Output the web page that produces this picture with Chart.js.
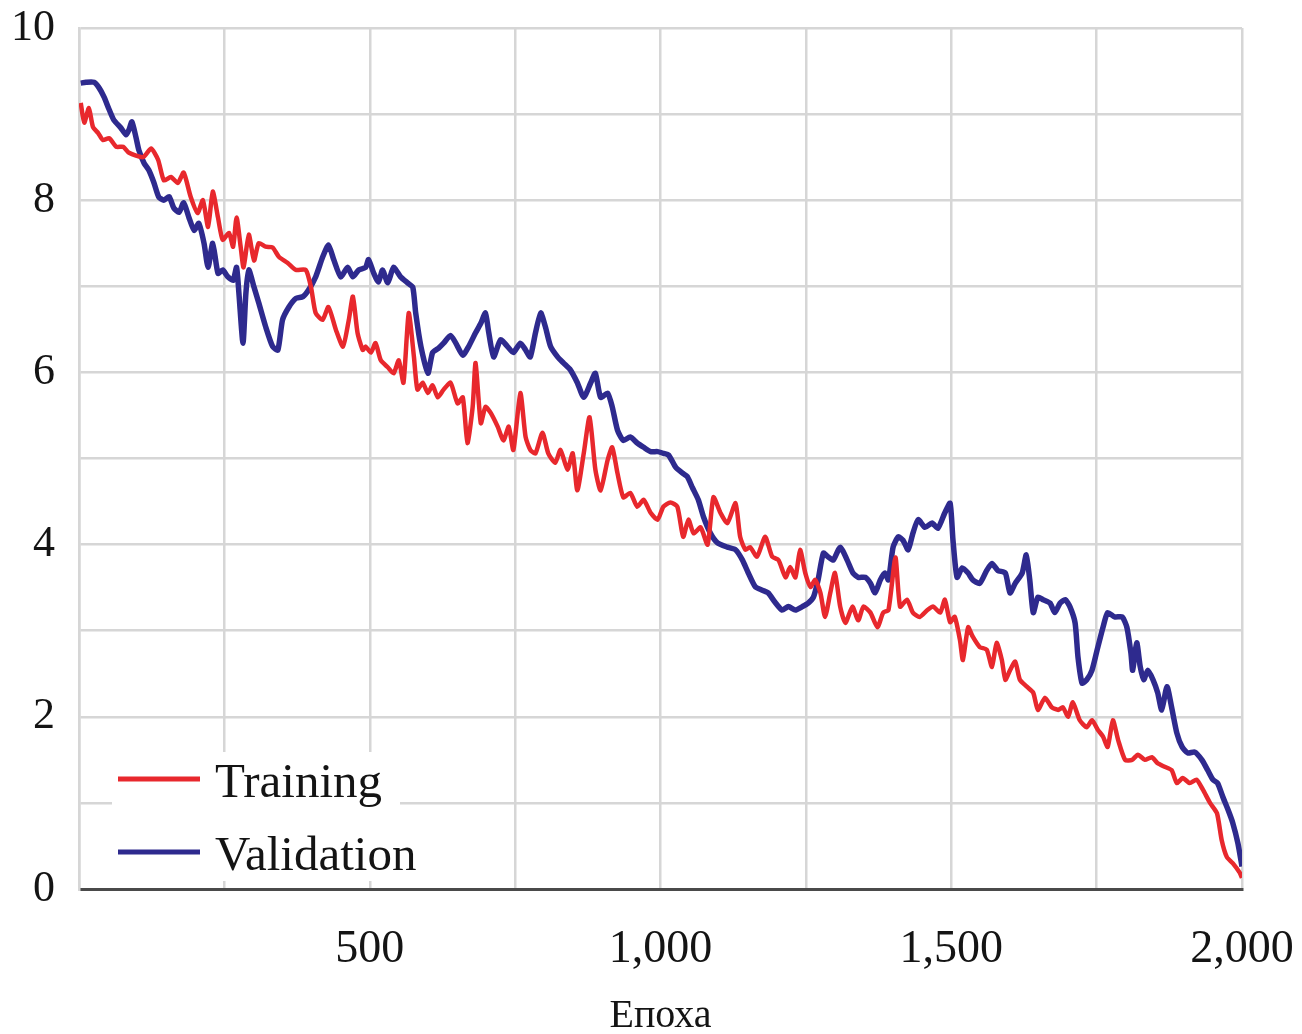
<!DOCTYPE html>
<html>
<head>
<meta charset="utf-8">
<title>Training / Validation</title>
<script src="https://cdn.jsdelivr.net/npm/chart.js@4.4.1/dist/chart.umd.min.js"></script>
<style>
  html, body { margin: 0; padding: 0; background: #ffffff; }
  #wrap { width: 1302px; height: 1034px; }
</style>
</head>
<body>
<div id="wrap"><canvas id="chart" width="1302" height="1034"></canvas></div>
<script>
// Loss per epoch, training run
const trainEpochs = [3, 9, 17, 24, 33, 41, 52, 64, 76, 86, 110, 124, 136, 146, 158, 170, 180, 192, 204, 213,
  222, 230, 239, 247, 258, 265, 271, 278, 283, 292, 301, 309, 321, 333, 344, 359, 373, 390, 399, 407,
  419, 429, 442, 454, 464, 471, 479, 488, 493, 502, 510, 519, 531, 541, 550, 558, 567, 576, 582, 591,
  600, 608, 617, 627, 639, 651, 660, 668, 677, 682, 691, 699, 708, 720, 730, 739, 747, 759, 768, 776,
  785, 797, 807, 819, 828, 840, 849, 857, 868, 878, 888, 897, 909, 917, 926, 936, 948, 960, 971, 983,
  995, 1005, 1017, 1029, 1039, 1048, 1057, 1069, 1081, 1091, 1103, 1115, 1129, 1137, 1146, 1154, 1166, 1180, 1192, 1203,
  1215, 1223, 1232, 1240, 1249, 1258, 1266, 1275, 1283, 1292, 1300, 1309, 1318, 1330, 1340, 1349, 1361, 1373, 1383, 1392,
  1404, 1412, 1424, 1434, 1446, 1459, 1469, 1481, 1489, 1498, 1506, 1515, 1520, 1529, 1537, 1549, 1561, 1570, 1578, 1587,
  1593, 1601, 1610, 1618, 1630, 1641, 1649, 1661, 1673, 1684, 1692, 1701, 1709, 1721, 1733, 1742, 1752, 1761, 1769, 1778,
  1787, 1799, 1811, 1821, 1833, 1845, 1855, 1867, 1879, 1888, 1898, 1910, 1922, 1933, 1945, 1957, 1965, 1974, 1984, 1996, 2000];
const trainLoss = [9.13, 8.90, 9.07, 8.85, 8.78, 8.70, 8.72, 8.62, 8.62, 8.55, 8.50, 8.60, 8.47, 8.23, 8.27, 8.20, 8.32, 8.04, 7.85, 8.00,
  7.69, 8.10, 7.80, 7.54, 7.62, 7.46, 7.80, 7.46, 7.22, 7.60, 7.30, 7.50, 7.46, 7.45, 7.34, 7.27, 7.19, 7.19, 6.99, 6.69,
  6.61, 6.76, 6.49, 6.30, 6.61, 6.88, 6.46, 6.26, 6.30, 6.23, 6.34, 6.14, 6.06, 5.99, 6.14, 5.88, 6.69, 6.18, 5.80, 5.88,
  5.76, 5.85, 5.71, 5.80, 5.88, 5.64, 5.71, 5.18, 5.60, 6.11, 5.41, 5.60, 5.53, 5.37, 5.21, 5.37, 5.10, 5.76, 5.25, 5.10,
  5.06, 5.30, 5.06, 4.95, 5.10, 4.87, 5.06, 4.63, 5.06, 5.48, 4.87, 4.63, 4.98, 5.13, 4.83, 4.55, 4.60, 4.44, 4.52, 4.37,
  4.29, 4.44, 4.49, 4.44, 4.09, 4.29, 4.13, 4.20, 4.00, 4.55, 4.37, 4.25, 4.48, 4.09, 3.94, 3.97, 3.86, 4.09, 3.86, 3.82,
  3.62, 3.74, 3.62, 3.94, 3.67, 3.51, 3.59, 3.44, 3.16, 3.44, 3.67, 3.28, 3.09, 3.28, 3.12, 3.28, 3.21, 3.04, 3.21, 3.24,
  3.85, 3.28, 3.36, 3.21, 3.16, 3.24, 3.28, 3.21, 3.36, 3.10, 3.16, 2.89, 2.66, 3.04, 2.93, 2.81, 2.78, 2.58, 2.86, 2.66,
  2.43, 2.54, 2.64, 2.43, 2.35, 2.28, 2.08, 2.22, 2.11, 2.08, 2.11, 2.00, 2.17, 1.96, 1.88, 1.96, 1.85, 1.77, 1.65, 1.96,
  1.73, 1.50, 1.50, 1.56, 1.50, 1.53, 1.46, 1.42, 1.38, 1.23, 1.29, 1.23, 1.27, 1.15, 1.00, 0.88, 0.57, 0.37, 0.30, 0.19, 0.13];

// Loss per epoch, validation run
const valEpochs = [3, 12, 26, 34, 43, 52, 60, 72, 81, 86, 91, 98, 103, 112, 120, 129, 137, 146, 155, 163,
  172, 180, 189, 198, 206, 215, 222, 230, 239, 247, 256, 265, 271, 275, 282, 287, 292, 301, 309, 321,
  333, 342, 350, 361, 373, 385, 395, 407, 419, 429, 438, 450, 462, 471, 481, 493, 498, 507, 515, 522,
  531, 541, 553, 565, 574, 579, 588, 600, 608, 618, 627, 639, 648, 660, 670, 682, 691, 699, 704, 713,
  725, 737, 747, 759, 768, 776, 785, 794, 802, 811, 823, 833, 845, 857, 868, 880, 888, 897, 909, 917,
  926, 936, 948, 960, 971, 983, 995, 1005, 1014, 1026, 1038, 1046, 1055, 1065, 1074, 1086, 1098, 1115, 1129, 1141,
  1151, 1163, 1175, 1185, 1197, 1209, 1220, 1232, 1244, 1254, 1263, 1271, 1280, 1288, 1297, 1309, 1321, 1331, 1340, 1352,
  1361, 1369, 1378, 1386, 1392, 1400, 1409, 1417, 1426, 1434, 1443, 1455, 1467, 1477, 1489, 1498, 1503, 1510, 1519, 1529,
  1537, 1549, 1561, 1570, 1580, 1593, 1601, 1610, 1622, 1629, 1635, 1641, 1649, 1658, 1670, 1678, 1687, 1696, 1704, 1713,
  1718, 1725, 1733, 1742, 1751, 1761, 1769, 1781, 1794, 1802, 1809, 1812, 1819, 1825, 1831, 1838, 1847, 1855, 1862, 1871,
  1879, 1888, 1897, 1907, 1919, 1931, 1941, 1950, 1958, 1967, 1976, 1984, 1993, 2000];
const valLoss = [9.36, 9.37, 9.37, 9.31, 9.20, 9.05, 8.93, 8.84, 8.76, 8.82, 8.91, 8.73, 8.58, 8.43, 8.35, 8.20, 8.04, 8.00, 8.04, 7.91,
  7.86, 7.97, 7.80, 7.65, 7.73, 7.50, 7.22, 7.50, 7.15, 7.19, 7.11, 7.07, 7.22, 6.92, 6.34, 6.92, 7.19, 6.99, 6.81, 6.53,
  6.30, 6.26, 6.61, 6.76, 6.86, 6.88, 6.96, 7.11, 7.34, 7.48, 7.31, 7.11, 7.22, 7.11, 7.19, 7.22, 7.31, 7.15, 7.05, 7.19,
  7.04, 7.22, 7.11, 7.04, 6.99, 6.69, 6.30, 5.99, 6.23, 6.28, 6.34, 6.43, 6.34, 6.20, 6.30, 6.46, 6.57, 6.69, 6.49, 6.18,
  6.38, 6.30, 6.23, 6.34, 6.26, 6.18, 6.46, 6.69, 6.53, 6.30, 6.18, 6.11, 6.03, 5.88, 5.71, 5.88, 5.99, 5.71, 5.76, 5.60,
  5.33, 5.21, 5.25, 5.18, 5.13, 5.08, 5.08, 5.06, 5.04, 4.90, 4.83, 4.79, 4.66, 4.52, 4.32, 4.13, 4.02, 3.97, 3.94, 3.82,
  3.67, 3.51, 3.47, 3.44, 3.33, 3.24, 3.28, 3.24, 3.28, 3.32, 3.39, 3.59, 3.90, 3.86, 3.82, 3.97, 3.82, 3.67, 3.62, 3.62,
  3.55, 3.44, 3.59, 3.67, 3.59, 3.97, 4.09, 4.05, 3.94, 4.13, 4.29, 4.20, 4.25, 4.19, 4.37, 4.48, 4.05, 3.62, 3.73, 3.67,
  3.59, 3.55, 3.70, 3.78, 3.70, 3.67, 3.44, 3.55, 3.67, 3.88, 3.59, 3.21, 3.39, 3.36, 3.32, 3.21, 3.32, 3.36, 3.28, 3.09,
  2.69, 2.39, 2.43, 2.54, 2.78, 3.04, 3.21, 3.16, 3.16, 3.04, 2.74, 2.54, 2.86, 2.58, 2.43, 2.54, 2.43, 2.28, 2.08, 2.35,
  2.11, 1.81, 1.65, 1.58, 1.59, 1.50, 1.38, 1.27, 1.23, 1.07, 0.92, 0.77, 0.53, 0.26];

const seriesNames = ['Training', 'Validation'];
const xTitle = 'Епоха';

const toPoints = (xs, ys) => xs.map((x, i) => ({ x: x, y: ys[i] }));

const SERIF = "'Liberation Serif', 'DejaVu Serif', serif";
const RED = '#e8282d';
const BLUE = '#2e2a8e';
const GRID = '#d6d6d6';

// Keep the plot box fixed: no extra room reserved for overhanging tick labels
function noLabelPadding(scale) {
  scale.paddingTop = 0;
  scale.paddingBottom = 0;
  scale.paddingLeft = 0;
  scale.paddingRight = 0;
}

// Legend drawn inside the plot area, lower-left, on a white panel
const insideLegend = {
  id: 'insideLegend',
  afterDatasetsDraw(chart) {
    const { ctx, chartArea } = chart;
    const left = chartArea.left + 33;
    const top = chartArea.bottom - 137;
    ctx.save();
    ctx.fillStyle = '#ffffff';
    ctx.fillRect(left, top, 288, 129);
    const rows = [27, 100];
    chart.data.datasets.forEach((ds, i) => {
      const y = top + rows[i];
      ctx.strokeStyle = ds.borderColor;
      ctx.lineWidth = 5;
      ctx.lineCap = 'butt';
      ctx.beginPath();
      ctx.moveTo(left + 6, y);
      ctx.lineTo(left + 88, y);
      ctx.stroke();
      ctx.fillStyle = '#141414';
      ctx.font = "49px " + SERIF;
      ctx.textBaseline = 'alphabetic';
      ctx.textAlign = 'left';
      ctx.fillText(ds.label, left + 103, y + 18);
    });
    ctx.restore();
  }
};

new Chart(document.getElementById('chart'), {
  type: 'line',
  data: {
    datasets: [
      {
        label: seriesNames[0],
        data: toPoints(trainEpochs, trainLoss),
        borderColor: RED,
        borderWidth: 4.5,
        pointRadius: 0,
        tension: 0.2,
        fill: false
      },
      {
        label: seriesNames[1],
        data: toPoints(valEpochs, valLoss),
        borderColor: BLUE,
        borderWidth: 5.5,
        pointRadius: 0,
        tension: 0.2,
        fill: false
      }
    ]
  },
  options: {
    responsive: false,
    animation: false,
    layout: { padding: { top: 28, right: 60, left: 0, bottom: 0 } },
    plugins: {
      legend: { display: false },
      tooltip: { enabled: false }
    },
    scales: {
      x: {
        type: 'linear',
        min: 0,
        max: 2000,
        afterFit(scale) { scale.height = 145; noLabelPadding(scale); },
        ticks: {
          stepSize: 250,
          padding: 33,
          color: '#141414',
          font: { family: SERIF, size: 46 },
          maxRotation: 0,
          autoSkip: false,
          callback: (v) => (v > 0 && v % 500 === 0) ? v.toLocaleString('en-US') : ''
        },
        grid: { color: GRID, lineWidth: 2.5, drawTicks: false },
        border: { color: '#4a4a4a', width: 3 },
        title: {
          display: true,
          text: xTitle,
          color: '#141414',
          font: { family: SERIF, size: 40, lineHeight: 0.9 },
          padding: { top: 0, bottom: 0 }
        }
      },
      y: {
        min: 0,
        max: 10,
        afterFit(scale) { scale.width = 79; noLabelPadding(scale); },
        ticks: {
          stepSize: 1,
          padding: 24,
          color: '#141414',
          font: { family: SERIF, size: 44 },
          callback: (v) => (v % 2 === 0) ? String(v) : ''
        },
        grid: {
          color: (c) => c.tick && c.tick.value === 0 ? '#4a4a4a' : GRID,
          lineWidth: (c) => c.tick && c.tick.value === 0 ? 3 : 2.5,
          drawTicks: false
        },
        border: { color: GRID, width: 2.5 }
      }
    }
  },
  plugins: [insideLegend]
});
</script>
</body>
</html>
